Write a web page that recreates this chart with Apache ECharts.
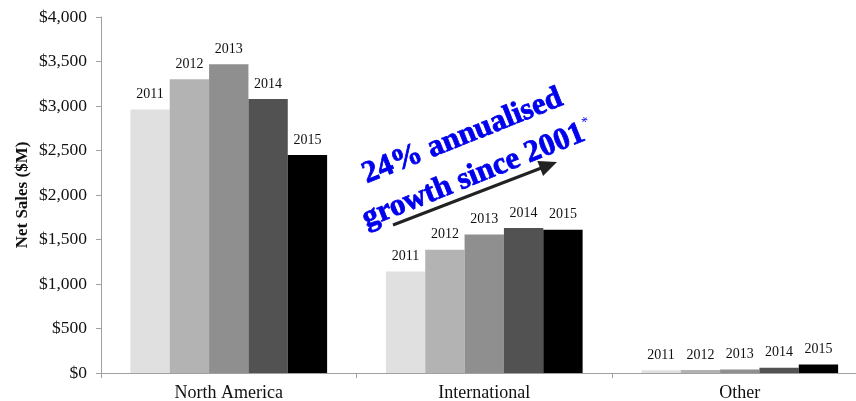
<!DOCTYPE html>
<html>
<head>
<meta charset="utf-8">
<script src="https://cdn.jsdelivr.net/npm/echarts@6/dist/echarts.min.js"></script>
<style>
  html, body { margin: 0; padding: 0; background: #fff; }
  #chart { width: 856px; height: 401px; }
</style>
</head>
<body>
<div id="chart"></div>
<script>
// Net sales by region, one series per fiscal year ($M)
const regions = ['North America', 'International', 'Other'];
const years = ['2011', '2012', '2013', '2014', '2015'];
const sales2011 = [2960, 1140, 30];
const sales2012 = [3300, 1385, 35];
const sales2013 = [3470, 1555, 40];
const sales2014 = [3080, 1630, 60];
const sales2015 = [2450, 1610, 95];
const yTicks = { min: 0, max: 4000, step: 500 };

const salesByYear = [sales2011, sales2012, sales2013, sales2014, sales2015];
const yearColors = ['#e0e0e0', '#b3b3b3', '#8f8f8f', '#525252', '#000000'];
const serif = '"Liberation Serif", "Times New Roman", serif';
const axisGrey = '#a0a0a0';
const noteBlue = '#0000ee';

const chart = echarts.init(document.getElementById('chart'), null, { renderer: 'canvas' });

const series = years.map((y, i) => ({
  name: y,
  type: 'bar',
  data: salesByYear[i],
  barGap: '0%',
  barCategoryGap: '23%',
  itemStyle: { color: yearColors[i] },
  label: {
    show: true,
    position: 'top',
    distance: 8,
    formatter: '{a}',
    fontFamily: serif,
    fontSize: 14,
    color: '#111'
  },
  silent: true,
  animation: false
}));

// Arrow geometry (pixel space of the annotation overlay)
const arrowStart = [393, 225];
const arrowEnd = [557, 162];
const arrowLen = Math.hypot(arrowEnd[0] - arrowStart[0], arrowEnd[1] - arrowStart[1]);
const arrowAngle = Math.atan2(arrowStart[1] - arrowEnd[1], arrowEnd[0] - arrowStart[0]);

const noteFont = {
  fontFamily: serif,
  fontWeight: 'bold',
  fontSize: 31,
  fill: noteBlue,
  stroke: noteBlue,
  lineWidth: 0.8
};

chart.setOption({
  animation: false,
  backgroundColor: '#ffffff',
  grid: {
    left: 101, right: -11.5, top: 17, bottom: 28,
    containLabel: false,
    outerBoundsMode: 'none'
  },
  xAxis: {
    type: 'category',
    data: regions,
    axisLine: { lineStyle: { color: axisGrey, width: 1 } },
    axisTick: { show: true, length: 5, lineStyle: { color: axisGrey } },
    axisLabel: { fontFamily: serif, fontSize: 18, color: '#111', margin: 11 }
  },
  yAxis: {
    type: 'value',
    min: yTicks.min,
    max: yTicks.max,
    interval: yTicks.step,
    name: 'Net Sales ($M)',
    nameLocation: 'middle',
    nameGap: 70,
    nameMoveOverlap: false,
    nameTextStyle: { fontFamily: serif, fontSize: 17, fontWeight: 'bold', color: '#111' },
    axisLine: { show: true, lineStyle: { color: axisGrey, width: 1 } },
    axisTick: { show: true, length: 5, lineStyle: { color: axisGrey } },
    splitLine: { show: false },
    axisLabel: {
      fontFamily: serif,
      fontSize: 17.5,
      color: '#111',
      margin: 14,
      formatter: v => '$' + v.toLocaleString('en-US')
    }
  },
  series: series,
  graphic: [
    {
      type: 'group',
      x: arrowStart[0],
      y: arrowStart[1],
      rotation: arrowAngle,
      silent: true,
      children: [
        {
          type: 'line',
          shape: { x1: 0, y1: 0, x2: arrowLen - 14, y2: 0 },
          style: { stroke: '#222', lineWidth: 3 }
        },
        {
          type: 'polygon',
          shape: { points: [[arrowLen, 0], [arrowLen - 18, -8], [arrowLen - 18, 8]] },
          style: { fill: '#222' }
        }
      ]
    },
    {
      type: 'group',
      x: 470,
      y: 155,
      rotation: 0.38,
      silent: true,
      children: [
        {
          type: 'text',
          x: 0,
          y: -20,
          style: Object.assign({ text: '24% annualised', align: 'center', verticalAlign: 'middle' }, noteFont)
        },
        {
          type: 'text',
          x: 0,
          y: 21,
          style: {
            text: '{a|growth since 2001}{s|*}',
            align: 'center',
            verticalAlign: 'middle',
            rich: {
              a: Object.assign({ color: noteBlue }, noteFont),
              s: { fontFamily: serif, fontSize: 14, fill: noteBlue, color: noteBlue, verticalAlign: 'top', padding: [0, 0, 14, 2] }
            }
          }
        }
      ]
    }
  ]
});
</script>
</body>
</html>
